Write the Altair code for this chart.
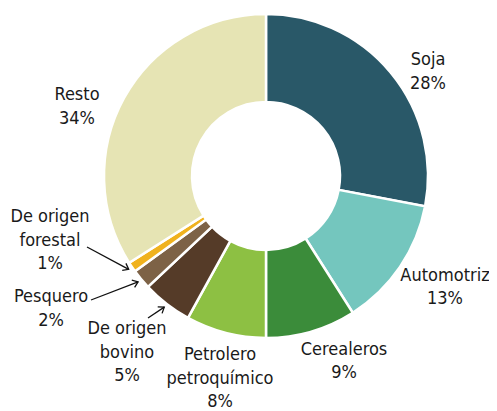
import math
import altair as alt
import pandas as pd

# ---- data ----
categories = ["Soja", "Automotriz", "Cerealeros", "Petrolero petroquímico",
              "De origen bovino", "Pesquero", "De origen forestal", "Resto"]
shares = [28, 13, 9, 8, 5, 2, 1, 34]
label_texts = ["Soja\n28%", "Automotriz\n13%", "Cerealeros\n9%",
               "Petrolero\npetroquímico\n8%", "De origen\nbovino\n5%",
               "Pesquero\n2%", "De origen\nforestal\n1%", "Resto\n34%"]
colors = ["#295868", "#74c6be", "#3b8c3a", "#8dc043",
          "#553b28", "#7d6246", "#f0b21e", "#e6e4b4"]

# ---- layout (pixels in plot coordinates) ----
CX, CY = 258, 168
R_OUT, R_IN = 162, 74
label_x = [420, 437, 336, 212, 119, 43, 42, 69]
label_y = [52, 267.5, 341.5, 347, 321, 289, 209, 87]
# leader lines: start points for the small slices
arrow_cats = ["De origen bovino", "Pesquero", "De origen forestal"]
arrow_tail_x = [140, 83, 79]
arrow_tail_y = [310, 292, 239]
R_TIP = 166

df = pd.DataFrame({"cat": categories, "value": shares,
                   "idx": list(range(len(categories)))})

lab = pd.DataFrame({"text": label_texts, "x": label_x, "y": label_y})

# arrow tips at slice mid-angle
total = sum(shares)
cum = 0
mid = {}
for c, v in zip(categories, shares):
    mid[c] = (cum + v / 2) / total * 2 * math.pi
    cum += v
rows = []
for c, tx, ty in zip(arrow_cats, arrow_tail_x, arrow_tail_y):
    a = mid[c]
    hx = CX + R_TIP * math.sin(a)
    hy = CY - R_TIP * math.cos(a)
    ang = math.degrees(math.atan2(hy - ty, hx - tx)) % 360
    rows.append({"x": tx, "y": ty, "x2": hx, "y2": hy, "ang": ang})
arr = pd.DataFrame(rows)

arcs = alt.Chart(df).mark_arc(
    radius=R_OUT, radius2=R_IN, stroke="white", strokeWidth=2.5
).encode(
    theta=alt.Theta("value:Q", stack=True),
    color=alt.Color("cat:N", scale=alt.Scale(domain=categories, range=colors), legend=None),
    order=alt.Order("idx:Q"),
    x=alt.value(CX),
    y=alt.value(CY),
)

FONT = "DejaVu Sans Condensed, Liberation Sans Narrow, Liberation Sans, sans-serif"

texts = alt.Chart(lab).mark_text(
    lineBreak="\n", align="center", baseline="middle",
    fontSize=18, lineHeight=23.5, font=FONT, color="#1a1a1a"
).encode(
    x=alt.X("x:Q", scale=None),
    y=alt.Y("y:Q", scale=None),
    text="text:N",
)

lines = alt.Chart(arr).mark_rule(color="#111111", strokeWidth=1.3).encode(
    x=alt.X("x:Q", scale=None), y=alt.Y("y:Q", scale=None),
    x2="x2:Q", y2="y2:Q",
)

heads = alt.Chart(arr).mark_point(
    shape="M-1,-0.75L0,0L-1,0.75", filled=False, stroke="#111111",
    strokeWidth=1.3, size=110, opacity=1
).encode(
    x=alt.X("x2:Q", scale=None), y=alt.Y("y2:Q", scale=None),
    angle=alt.Angle("ang:Q", scale=None),
)

chart = alt.layer(arcs, lines, heads, texts).properties(
    width=481, height=403, padding=0,
    autosize=alt.AutoSizeParams(type="none"),
).configure_view(stroke=None)

chart.save("out.html", embed_options={"renderer": "svg", "actions": False})
